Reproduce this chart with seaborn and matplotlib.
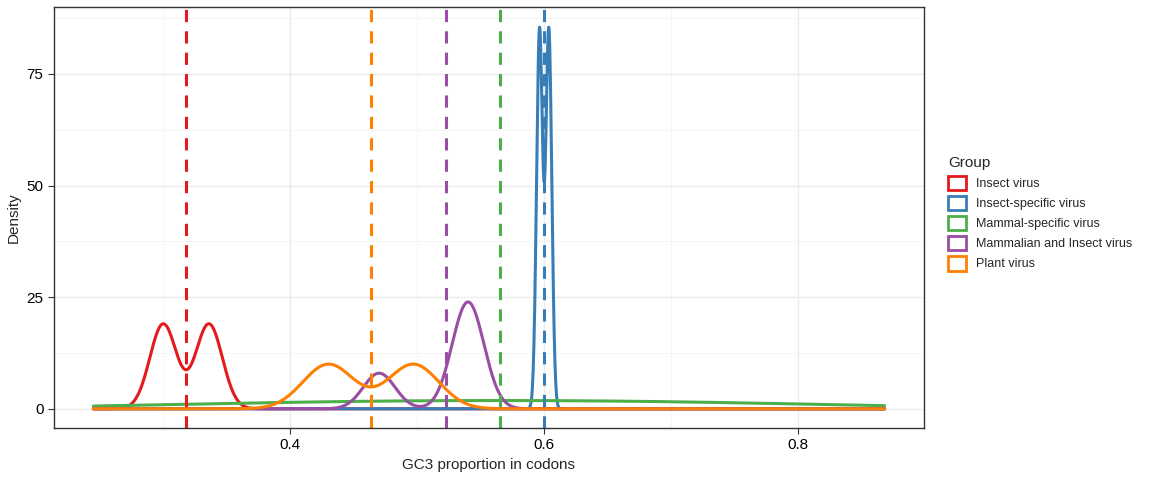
import numpy as np
import pandas as pd
import matplotlib
matplotlib.use("Agg")
import matplotlib.pyplot as plt
import seaborn as sns
from matplotlib.patches import Patch

groups = ["Insect virus", "Insect-specific virus", "Mammal-specific virus",
          "Mammalian and Insect virus", "Plant virus"]
colors = ["#E41A1C", "#377EB8", "#4DAF4A", "#984EA3", "#FF7F00"]

# GC3 sample values per group
insect = [0.300, 0.336]
insect_specific = [0.5963, 0.6036]
mammal_specific = [0.40, 0.565, 0.73]
mammal_insect = [0.47, 0.54, 0.54, 0.54]
plant = [0.430, 0.497]
samples = [insect, insect_specific, mammal_specific, mammal_insect, plant]
bandwidths = [0.0105, 0.00235, 0.15, 0.0125, 0.02]

x_min, x_max = 0.245, 0.868

sns.set_theme(style="whitegrid")
plt.rcParams['font.family'] = ['Liberation Sans', 'DejaVu Sans']

grid = np.linspace(x_min, x_max, 2000)
rows = []
for g, vals, bw in zip(groups, samples, bandwidths):
    vals = np.asarray(vals)
    d = np.exp(-0.5 * ((grid[:, None] - vals[None, :]) / bw) ** 2).sum(axis=1)
    d /= len(vals) * bw * np.sqrt(2 * np.pi)
    rows.append(pd.DataFrame({"x": grid, "density": d, "Group": g}))
df = pd.concat(rows)

fig = plt.figure(figsize=(11.52, 4.8), dpi=100)
ax = fig.add_axes([54 / 1152, 52 / 480, 870 / 1152, 421 / 480])

sns.lineplot(data=df, x="x", y="density", hue="Group", palette=colors,
             hue_order=groups, linewidth=2.2, ax=ax, legend=False, sort=False)
for vals, c in zip(samples, colors):
    ax.axvline(np.mean(vals), color=c, linestyle=(0, (4, 3)), linewidth=2.2)

ax.set_xlim(0.214, 0.899)
ax.set_ylim(-4.3, 90)
ax.set_xticks([0.4, 0.6, 0.8])
ax.set_xticklabels(["0.4", "0.6", "0.8"])
ax.set_yticks([0, 25, 50, 75])
ax.set_xticks([0.3, 0.5, 0.7], minor=True)
ax.set_yticks([12.5, 37.5, 62.5, 87.5], minor=True)
ax.grid(True, which="major", color="#EBEBEB", linewidth=1.0)
ax.grid(True, which="minor", color="#F4F4F4", linewidth=0.6)
ax.set_axisbelow(True)
for s in ax.spines.values():
    s.set_color("#333333")
    s.set_linewidth(1.0)
ax.tick_params(axis="both", which="major", labelsize=11, colors="#333333",
               length=4, width=0.8, left=True, bottom=True, labelcolor="black")
ax.tick_params(which="minor", length=0)
ax.set_xlabel("GC3 proportion in codons", fontsize=11)
ax.set_ylabel("Density", fontsize=11)

handles = [Patch(facecolor="white", edgecolor=c, linewidth=2) for c in colors]
fig.legend(handles, groups, title="Group", loc="upper left",
           bbox_to_anchor=(937 / 1152, 1 - 145 / 480), frameon=False,
           fontsize=9, title_fontsize=11, handlelength=1.4, handleheight=1.4,
           labelspacing=0.45, alignment="left")

fig.savefig("out.png", dpi=100)
